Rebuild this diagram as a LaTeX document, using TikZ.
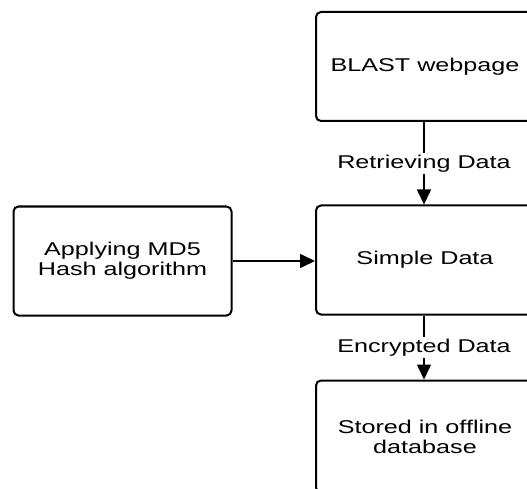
\documentclass[tikz,border=0pt]{standalone}
\usepackage{fontspec}
\setmainfont{Liberation Sans}[FakeStretch=1.36]
\usetikzlibrary{arrows.meta,positioning}
\newcommand{\rpad}{\hspace*{22pt}}

\begin{document}
\begin{tikzpicture}[x=1pt,y=1pt,
	box/.style={draw,line width=2pt,rounded corners=5pt,minimum width=218pt,minimum height=109pt,align=center,font=\fontsize{18.5}{20}\selectfont},
	wide/.style={minimum width=240pt},
	flow/.style={line width=1.6pt,-{Triangle[length=15pt,width=14pt]}},
	lbl/.style={fill=white,inner sep=2pt,font=\fontsize{18.5}{20}\selectfont}]
	\useasboundingbox (0,0) rectangle (527,488);
	\clip (0,0) rectangle (527,488);
	\node at (436,421.5)[box,wide] (blast) {BLAST webpage\rpad};
	\node at (436,228)[box,wide] (simple) {Simple Data\rpad};
	\node at (122.5,227)[box] (hash) {Applying MD5\\Hash algorithm};
	\node at (436,51.5)[box,wide,minimum height=112pt] (stored) {Stored in offline\rpad\\database\rpad};
	\draw[flow] ([xshift=109pt]blast.south west)--([xshift=109pt]simple.north west) node[midway,lbl] {Retrieving Data};
	\draw[flow] ([xshift=109pt]simple.south west)--([xshift=109pt]stored.north west) node[midway,lbl] {Encrypted Data};
	\draw[flow] (hash.east)--(hash.east-|simple.west);
\end{tikzpicture}
\end{document}
